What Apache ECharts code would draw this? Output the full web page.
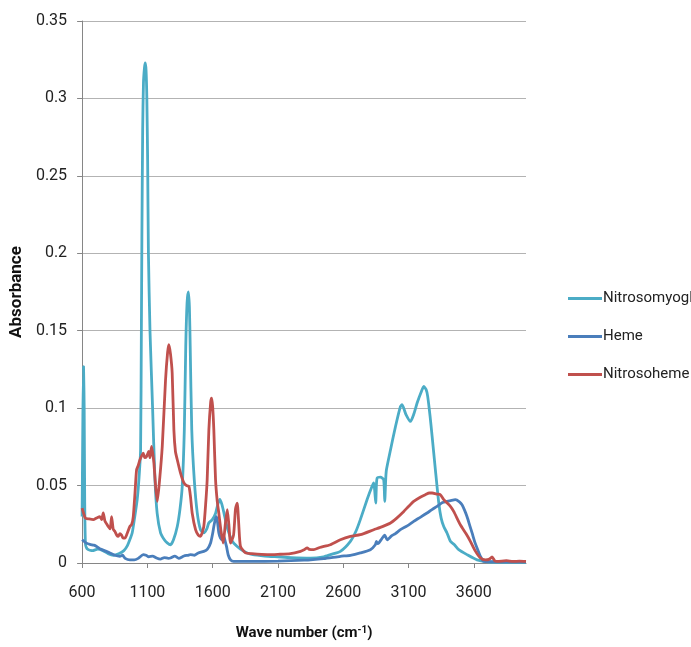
<!DOCTYPE html>
<html>
<head>
<meta charset="utf-8">
<script src="https://cdn.jsdelivr.net/npm/echarts@6/dist/echarts.min.js"></script>
<style>html,body{margin:0;padding:0;background:#fff}#c{width:691px;height:647px}</style>
</head>
<body>
<div id="c"></div>
<script>
const seriesNames = ['Nitrosomyogl', 'Heme', 'Nitrosoheme'];
const xTicks = [600, 1100, 1600, 2100, 2600, 3100, 3600];

const nitrosomyogl = [[600,0.030],[606,0.095],[611,0.127],[616,0.10],[620,0.04],[626,0.012],[640,0.009],[680,0.008],[720,0.009],[760,0.008],[800,0.006],[840,0.005],[880,0.006],[920,0.008],[946,0.011],[970,0.016],[984,0.0195],[1000,0.028],[1022,0.041],[1036,0.055],[1048,0.073],[1054,0.15],[1058,0.21],[1064,0.28],[1070,0.31],[1078,0.320],[1084,0.323],[1090,0.318],[1096,0.30],[1102,0.26],[1108,0.2],[1120,0.15],[1140,0.1],[1158,0.054],[1175,0.032],[1201,0.0195],[1230,0.015],[1252,0.013],[1277,0.0118],[1300,0.015],[1329,0.0236],[1350,0.035],[1367,0.0495],[1383,0.086],[1394,0.14],[1404,0.168],[1414,0.175],[1422,0.165],[1428,0.14],[1440,0.086],[1459,0.054],[1482,0.0324],[1507,0.0215],[1532,0.0194],[1555,0.022],[1571,0.026],[1597,0.028],[1622,0.032],[1640,0.038],[1655,0.041],[1670,0.038],[1686,0.0325],[1705,0.025],[1724,0.0195],[1750,0.014],[1788,0.0107],[1830,0.008],[1865,0.0065],[1900,0.0055],[2000,0.0045],[2100,0.004],[2200,0.0035],[2350,0.0032],[2450,0.004],[2502,0.0054],[2578,0.0075],[2655,0.014],[2700,0.021],[2731,0.028],[2783,0.041],[2821,0.0495],[2834,0.0517],[2842,0.046],[2849,0.0387],[2854,0.05],[2860,0.0549],[2885,0.0555],[2910,0.0538],[2918,0.0398],[2926,0.055],[2931,0.0602],[2962,0.073],[3000,0.088],[3038,0.101],[3051,0.1022],[3080,0.096],[3115,0.0914],[3140,0.096],[3166,0.1033],[3195,0.11],[3217,0.114],[3235,0.112],[3247,0.1076],[3265,0.095],[3281,0.0818],[3306,0.0602],[3332,0.0387],[3350,0.029],[3370,0.0236],[3395,0.0194],[3421,0.014],[3450,0.012],[3485,0.0086],[3548,0.0054],[3625,0.002],[3700,0.0008],[3800,0.0005],[4000,0.0005]];

const heme = [[600,0.015],[630,0.013],[660,0.012],[690,0.0115],[711,0.0107],[740,0.009],[770,0.008],[813,0.0065],[850,0.005],[889,0.0043],[910,0.005],[930,0.003],[966,0.002],[1000,0.002],[1030,0.003],[1068,0.0054],[1090,0.005],[1110,0.004],[1140,0.0045],[1170,0.0032],[1200,0.0025],[1230,0.0035],[1260,0.003],[1277,0.0032],[1310,0.0045],[1340,0.003],[1380,0.0045],[1410,0.005],[1430,0.0054],[1460,0.005],[1490,0.0065],[1532,0.0075],[1560,0.009],[1584,0.0129],[1600,0.019],[1609,0.0236],[1620,0.028],[1630,0.030],[1638,0.026],[1647,0.0195],[1660,0.016],[1673,0.015],[1686,0.0172],[1696,0.014],[1706,0.0107],[1720,0.005],[1737,0.002],[1760,0.001],[1900,0.001],[2100,0.0012],[2300,0.0018],[2349,0.002],[2450,0.0028],[2578,0.0043],[2655,0.005],[2731,0.0065],[2808,0.0086],[2846,0.0118],[2854,0.014],[2862,0.0125],[2872,0.0129],[2898,0.016],[2918,0.018],[2936,0.015],[2970,0.0175],[3000,0.019],[3038,0.0215],[3090,0.024],[3140,0.0269],[3190,0.0295],[3242,0.0323],[3280,0.0345],[3319,0.0366],[3360,0.039],[3395,0.0398],[3430,0.0405],[3459,0.0409],[3490,0.0395],[3510,0.0376],[3530,0.034],[3548,0.030],[3570,0.024],[3587,0.0194],[3610,0.013],[3625,0.0097],[3651,0.0043],[3676,0.001],[3800,0.0008],[4000,0.0008]];

const nitrosoheme = [[600,0.0355],[612,0.032],[625,0.029],[650,0.0285],[686,0.028],[710,0.029],[736,0.030],[750,0.028],[762,0.0323],[775,0.027],[790,0.025],[800,0.0236],[815,0.022],[826,0.030],[838,0.022],[851,0.0204],[865,0.018],[877,0.0172],[890,0.019],[902,0.018],[915,0.016],[928,0.016],[945,0.019],[966,0.0236],[980,0.025],[992,0.030],[1005,0.045],[1017,0.060],[1030,0.063],[1043,0.0667],[1068,0.071],[1080,0.068],[1094,0.0688],[1110,0.072],[1120,0.068],[1132,0.0753],[1142,0.07],[1150,0.0646],[1163,0.0495],[1176,0.0398],[1195,0.055],[1214,0.0753],[1239,0.118],[1255,0.136],[1265,0.141],[1277,0.135],[1290,0.1227],[1303,0.086],[1315,0.072],[1329,0.0667],[1354,0.058],[1380,0.0517],[1400,0.050],[1418,0.0495],[1430,0.043],[1443,0.0323],[1469,0.0215],[1490,0.018],[1507,0.0172],[1532,0.0236],[1548,0.04],[1558,0.0538],[1571,0.086],[1585,0.104],[1592,0.1065],[1600,0.101],[1609,0.086],[1622,0.054],[1635,0.04],[1647,0.0323],[1665,0.02],[1681,0.0129],[1697,0.025],[1712,0.0344],[1724,0.025],[1737,0.0129],[1760,0.018],[1775,0.035],[1788,0.0387],[1800,0.025],[1813,0.0107],[1852,0.0065],[1900,0.006],[2018,0.0054],[2100,0.0056],[2196,0.006],[2273,0.0075],[2300,0.0085],[2324,0.0097],[2340,0.0088],[2375,0.0086],[2420,0.010],[2502,0.0118],[2578,0.015],[2655,0.0172],[2731,0.0183],[2834,0.0215],[2900,0.0235],[2962,0.0258],[3010,0.029],[3064,0.0333],[3100,0.0365],[3140,0.0398],[3190,0.0425],[3229,0.0441],[3260,0.0452],[3281,0.0452],[3320,0.0445],[3344,0.0441],[3370,0.0409],[3421,0.0366],[3446,0.0333],[3497,0.0247],[3540,0.019],[3574,0.014],[3610,0.008],[3651,0.0032],[3689,0.002],[3720,0.0025],[3740,0.0039],[3760,0.0015],[3778,0.001],[3850,0.0015],[3900,0.001],[3950,0.0012],[4000,0.001]];

const colors = ['#4BACC6', '#4A7EBB', '#C0504D'];
const FONT = "Roboto, 'DejaVu Sans Condensed', sans-serif";

const chart = echarts.init(document.getElementById('c'), null, {renderer: 'canvas'});
const dataSets = [nitrosomyogl, heme, nitrosoheme];
chart.setOption({
  animation: false,
  backgroundColor: '#fff',
  color: colors,
  grid: {left: 81, right: 165, top: 21, bottom: 84, containLabel: false},
  legend: {
    orient: 'vertical', left: 563, top: 286,
    itemWidth: 34, itemHeight: 14, itemGap: 23,
    icon: 'path://M0,6 L34,6 L34,9 L0,9 Z',
    textStyle: {fontFamily: FONT, fontSize: 15, color: '#222', padding: [0,0,0,-4]},
    data: seriesNames
  },
  xAxis: {
    type: 'value', min: 600, max: 4000,
    name: 'Wave number (cm{sup|-1})',
    nameLocation: 'middle', nameGap: 62,
    nameTextStyle: {fontFamily: FONT, fontSize: 15, fontWeight: 'bold', color: '#111',
      rich: {sup: {fontFamily: FONT, fontSize: 10, fontWeight: 'bold', verticalAlign: 'top', color: '#111', padding: [0,0,6,0]}}},
    axisLine: {lineStyle: {color: '#868686', width: 1}},
    axisTick: {show: true, length: 5, customValues: xTicks, lineStyle: {color: '#868686'}},
    axisLabel: {customValues: xTicks, formatter: v => String(v), fontFamily: FONT, fontSize: 16, color: '#222', margin: 22},
    splitLine: {show: false}
  },
  yAxis: {
    type: 'value', min: 0, max: 0.35, interval: 0.05,
    name: 'Absorbance', nameLocation: 'middle', nameGap: 57,
    nameTextStyle: {fontFamily: FONT, fontSize: 17, fontWeight: 'bold', color: '#111'},
    axisLine: {show: true, lineStyle: {color: '#868686', width: 1}},
    axisTick: {show: true, length: 5, lineStyle: {color: '#868686'}},
    axisLabel: {fontFamily: FONT, fontSize: 16, color: '#222', margin: 15},
    splitLine: {show: true, lineStyle: {color: '#B3B3B3', width: 1}}
  },
  series: dataSets.map((d, i) => ({
    name: seriesNames[i], type: 'line', data: d,
    symbol: 'none', smooth: 0.2,
    lineStyle: {width: 2.8, color: colors[i]},
    itemStyle: {color: colors[i]}
  }))
});
</script>
</body>
</html>
